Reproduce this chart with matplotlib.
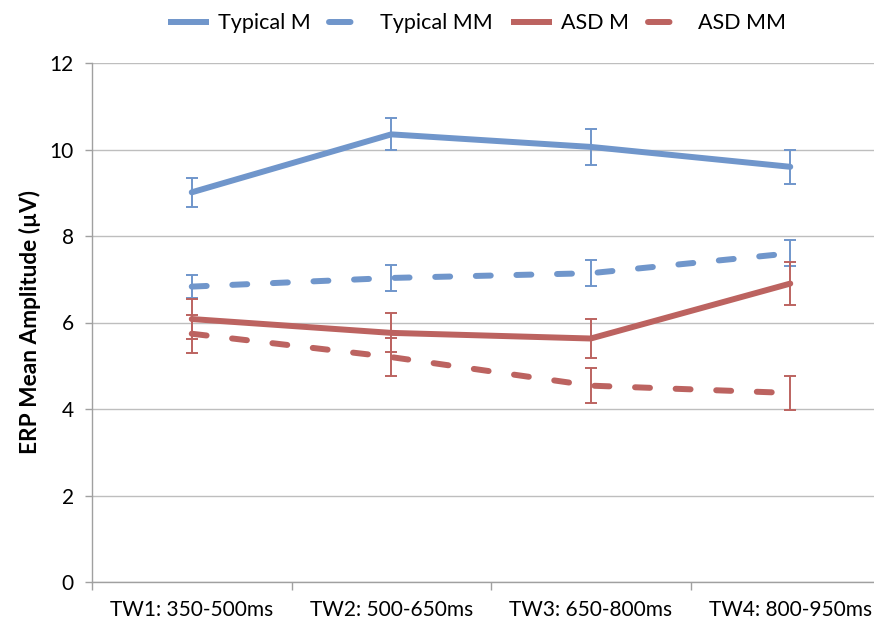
import matplotlib
matplotlib.use("Agg")
import matplotlib.pyplot as plt
from matplotlib.lines import Line2D
import numpy as np

categories = ["TW1: 350-500ms", "TW2: 500-650ms", "TW3: 650-800ms", "TW4: 800-950ms"]
typical_m = [9.01, 10.35, 10.06, 9.60]
typical_m_err = [0.33, 0.37, 0.42, 0.40]
typical_mm = [6.83, 7.03, 7.14, 7.60]
typical_mm_err = [0.26, 0.30, 0.30, 0.30]
asd_m = [6.08, 5.76, 5.63, 6.90]
asd_m_err = [0.46, 0.45, 0.45, 0.50]
asd_mm = [5.74, 5.20, 4.54, 4.37]
asd_mm_err = [0.44, 0.44, 0.41, 0.39]
yticks = [0, 2, 4, 6, 8, 10, 12]

blue = "#7096CB"
red = "#BC6360"
font = ["Lato", "DejaVu Sans"]
plt.rcParams["font.family"] = font

fig = plt.figure(figsize=(8.74, 6.26), dpi=100)
ax = fig.add_axes([92/874, 44/626, 798/874, 519/626])

x = np.arange(len(categories))
lw = 4.3
dash = (0, (2.5, 4.3))
series = [
    (typical_m, typical_m_err, blue, "-", "Typical M"),
    (typical_mm, typical_mm_err, blue, dash, "Typical MM"),
    (asd_m, asd_m_err, red, "-", "ASD M"),
    (asd_mm, asd_mm_err, red, dash, "ASD MM"),
]
handles = []
for vals, errs, col, ls, lab in series:
    ax.errorbar(x, vals, yerr=errs, fmt="none", ecolor=col, elinewidth=1.4,
                capsize=4, capthick=1.4, zorder=3)
    ax.plot(x, vals, color=col, lw=lw, ls=ls, solid_capstyle="round",
            dash_capstyle="round", zorder=4, label=lab)
    handles.append(Line2D([0], [0], color=col, lw=lw,
                          ls=("-" if ls == "-" else (0, (3.6, 4.3))),
                          solid_capstyle="butt", dash_capstyle="round"))

ax.set_xlim(-0.5, len(categories) - 0.5)
ax.set_ylim(0, 12)
ax.set_yticks(yticks)
ax.set_yticklabels([str(t) for t in yticks], fontsize=15)
ax.set_xticks(x)
ax.set_xticklabels(categories, fontsize=15)
ax.set_xticks(np.arange(-0.5, len(categories) + 0.5, 1), minor=True)
ax.tick_params(axis="x", which="major", length=0, pad=13)
ax.tick_params(axis="x", which="minor", length=6, color="#A0A0A0", width=1)
ax.tick_params(axis="y", length=5, color="#A0A0A0", width=1, pad=8)
ax.yaxis.grid(True, color="#BEBEBE", lw=1)
ax.set_axisbelow(True)
for s in ["top", "right"]:
    ax.spines[s].set_visible(False)
for s in ["left", "bottom"]:
    ax.spines[s].set_color("#A0A0A0")
    ax.spines[s].set_linewidth(1)

ax.set_ylabel("ERP Mean Amplitude (µV)", fontsize=16.3, fontweight="bold", labelpad=6)

fig.legend(handles, [s[4] for s in series], loc="upper center",
           bbox_to_anchor=(477/874, 1.01), ncol=4, frameon=False, fontsize=15.5,
           handlelength=1.9, columnspacing=0.85, handletextpad=0.45)

fig.savefig("out.png", dpi=100)
